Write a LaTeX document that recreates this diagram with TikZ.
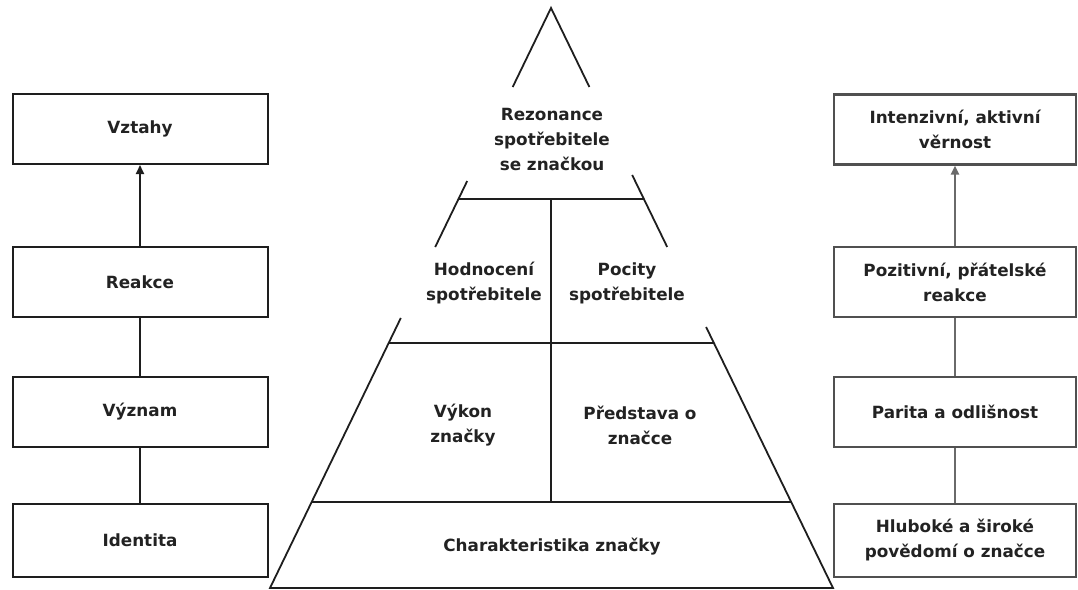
\documentclass[tikz,border=0pt]{standalone}
\usepackage{fontspec}
\newfontfamily\labfont{DejaVu Sans}
\usetikzlibrary{arrows.meta}
\definecolor{inkL}{HTML}{1E1E1E}
\definecolor{inkR}{HTML}{505050}
\definecolor{txt}{HTML}{222222}
\tikzset{
  lab/.style={font=\labfont\bfseries\fontsize{16.8}{25}\selectfont, text=txt, align=center, inner sep=0pt},
  boxL/.style={lab, draw=inkL, line width=2pt, minimum width=255pt, minimum height=70pt},
  boxR/.style={lab, draw=inkR, line width=2.2pt, minimum width=242pt, minimum height=70pt},
  linkL/.style={draw=inkL, line width=2pt},
  linkR/.style={draw=inkR!85, line width=2.2pt},
  arr/.style={-{Triangle[length=9pt,width=8pt]}},
  pyr/.style={draw=inkL, line width=1.8pt},
}
\begin{document}
\begin{tikzpicture}[x=1pt,y=-1pt]
\useasboundingbox (0,0) rectangle (1078,589);
% left boxes
\node[boxL] (vzt) at (140,129) {Vztahy};
\node[boxL] (rea) at (140,282) {Reakce};
\node[boxL] (vyz) at (140,412) {Význam};
\node[boxL, minimum height=73pt] (ide) at (140,540.5) {Identita};
\draw[linkL, arr] (rea.north) -- (vzt.south);
\draw[linkL] (vyz.north) -- (rea.south);
\draw[linkL] (ide.north) -- (vyz.south);
% right boxes
\node[boxR] (int) at (955,129.5) {Intenzivní, aktivní\\věrnost};
\node[boxR] (poz) at (955,282) {Pozitivní, přátelské\\reakce};
\node[boxR] (par) at (955,412) {Parita a odlišnost};
\node[boxR, minimum height=73pt] (hlu) at (955,540.5) {Hluboké a široké\\povědomí o značce};
\draw[linkR, arr] (poz.north) -- (int.south);
\draw[linkR] (par.north) -- (poz.south);
\draw[linkR] (hlu.north) -- (par.south);
% pyramid
\coordinate (apex) at (551,8);
\draw[pyr, line join=miter] (512.7,87) -- (apex) -- (589.4,87);
\draw[pyr] (467.2,181) -- (435.2,247);
\draw[pyr] (632.2,175) -- (667.2,247);
\draw[pyr] (400.8,318) -- (270,588) -- (833,588) -- (706.1,327);
\draw[pyr] (458.5,199) -- (643.9,199);
\draw[pyr] (388.7,343) -- (713.9,343);
\draw[pyr] (311.7,502) -- (791.2,502);
\draw[pyr] (551,199) -- (551,502);
% pyramid texts
\node[lab] (rez) at (552,139) {Rezonance\\spotřebitele\\se značkou};
\node[lab] (hod) at (484,283) {Hodnocení\\spotřebitele};
\node[lab] (poc) at (627,283) {Pocity\\spotřebitele};
\node[lab] (vyk) at (463,425) {Výkon\\značky};
\node[lab] (pre) at (640,425) {Představa o\\značce};
\node[lab] (cha) at (552,547) {Charakteristika značky};
\end{tikzpicture}
\end{document}
